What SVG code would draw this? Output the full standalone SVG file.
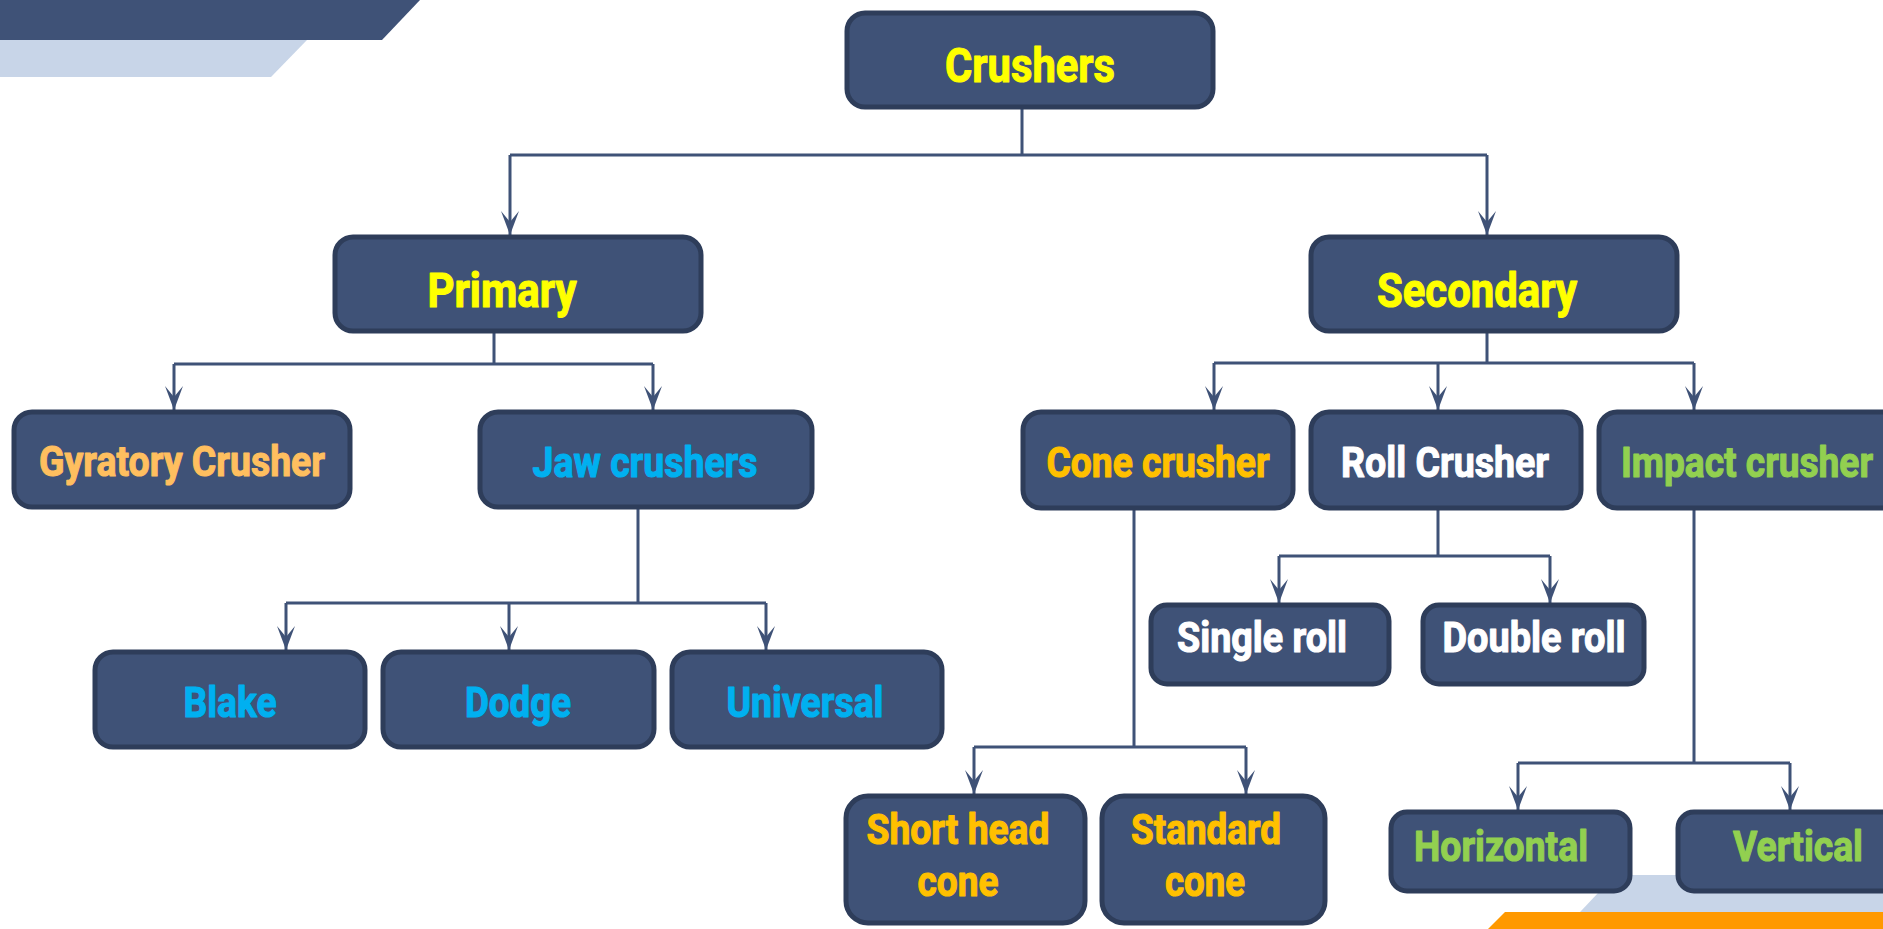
<svg xmlns="http://www.w3.org/2000/svg" width="1883" height="929" viewBox="0 0 1883 929">
<style>
.n{fill:#3F5277;stroke:#2E3D5A;stroke-width:5}
.t{font-family:Roboto,"Liberation Sans",sans-serif;font-weight:bold;font-size:42px;text-anchor:middle;stroke-width:1.1;stroke-linejoin:round}
.big{font-size:49px}
.y{fill:#FFFF00;stroke:#FFFF00}.o{fill:#FFBF5F;stroke:#FFBF5F}.b{fill:#00B0F0;stroke:#00B0F0}.g{fill:#FFC000;stroke:#FFC000}.w{fill:#FFFFFF;stroke:#FFFFFF}.gr{fill:#92D050;stroke:#92D050}
.c{fill:none;stroke:#3F5277;stroke-width:3;marker-end:url(#ah)}
.l{fill:none;stroke:#3F5277;stroke-width:3}
</style>
<defs>
<marker id="ah" markerUnits="userSpaceOnUse" markerWidth="30" markerHeight="24" viewBox="-26 -12 28 24" refX="0" refY="0" orient="auto">
<path d="M0,0 L-24,-9 L-13,0 L-24,9 Z" fill="#3F5277"/>
</marker>
</defs>
<g id="decor">
<polygon points="0,0 420,0 382,40 0,40" fill="#3F5277"/>
<polygon points="0,40 307,40 271,77 0,77" fill="#C8D5E8"/>
<polygon points="1615,875 1883,875 1883,929 1564,929" fill="#C8D5E8"/>
<polygon points="1505,912 1883,912 1883,929 1488,929" fill="#FF9900"/>
</g>
<g id="connectors">
<path class="l" d="M1022,109 V155 M510,155 H1487"/>
<path class="c" d="M510,155 V235"/>
<path class="c" d="M1487,155 V235"/>
<path class="l" d="M494,333 V364 M174,364 H653"/>
<path class="c" d="M174,364 V410"/>
<path class="c" d="M653,364 V410"/>
<path class="l" d="M1487,332 V363 M1214,363 H1694"/>
<path class="c" d="M1214,363 V410"/>
<path class="c" d="M1438,363 V410"/>
<path class="c" d="M1694,363 V410"/>
<path class="l" d="M638,509 V603 M286,603 H766"/>
<path class="c" d="M286,603 V650"/>
<path class="c" d="M509,603 V650"/>
<path class="c" d="M766,603 V650"/>
<path class="l" d="M1438,510 V556 M1279,556 H1550"/>
<path class="c" d="M1279,556 V603"/>
<path class="c" d="M1550,556 V603"/>
<path class="l" d="M1134,510 V747 M974,747 H1246"/>
<path class="c" d="M974,747 V794"/>
<path class="c" d="M1246,747 V794"/>
<path class="l" d="M1694,510 V763 M1518,763 H1790"/>
<path class="c" d="M1518,763 V810"/>
<path class="c" d="M1790,763 V810"/>
</g>
<g id="crushers"><rect class="n" x="847" y="13" width="366" height="94" rx="18"/><text class="t big y" x="1030" y="82" textLength="170" lengthAdjust="spacingAndGlyphs">Crushers</text></g>
<g id="primary"><rect class="n" x="335" y="237" width="366" height="94" rx="18"/><text class="t big y" x="502" y="307" textLength="149" lengthAdjust="spacingAndGlyphs">Primary</text></g>
<g id="secondary"><rect class="n" x="1311" y="237" width="366" height="94" rx="18"/><text class="t big y" x="1477" y="307" textLength="200" lengthAdjust="spacingAndGlyphs">Secondary</text></g>
<g id="gyratory"><rect class="n" x="14" y="412" width="336" height="95" rx="18"/><text class="t o" x="182" y="476" textLength="286" lengthAdjust="spacingAndGlyphs">Gyratory Crusher</text></g>
<g id="jaw"><rect class="n" x="480" y="412" width="332" height="95" rx="18"/><text class="t b" x="645" y="477" textLength="225" lengthAdjust="spacingAndGlyphs">Jaw crushers</text></g>
<g id="cone"><rect class="n" x="1023" y="412" width="270" height="96" rx="18"/><text class="t g" x="1158" y="477" textLength="223" lengthAdjust="spacingAndGlyphs">Cone crusher</text></g>
<g id="roll"><rect class="n" x="1311" y="412" width="270" height="96" rx="18"/><text class="t w" x="1445" y="477" textLength="208" lengthAdjust="spacingAndGlyphs">Roll Crusher</text></g>
<g id="impact"><rect class="n" x="1599" y="412" width="300" height="96" rx="18"/><text class="t gr" x="1747" y="477" textLength="252" lengthAdjust="spacingAndGlyphs">Impact crusher</text></g>
<g id="blake"><rect class="n" x="95" y="652" width="270" height="95" rx="18"/><text class="t b" x="230" y="717" textLength="93" lengthAdjust="spacingAndGlyphs">Blake</text></g>
<g id="dodge"><rect class="n" x="383" y="652" width="271" height="95" rx="18"/><text class="t b" x="518" y="717" textLength="106" lengthAdjust="spacingAndGlyphs">Dodge</text></g>
<g id="universal"><rect class="n" x="672" y="652" width="270" height="95" rx="18"/><text class="t b" x="805" y="717" textLength="157" lengthAdjust="spacingAndGlyphs">Universal</text></g>
<g id="single"><rect class="n" x="1151" y="605" width="238" height="79" rx="16"/><text class="t w" x="1262" y="652" textLength="170" lengthAdjust="spacingAndGlyphs">Single roll</text></g>
<g id="double"><rect class="n" x="1423" y="605" width="221" height="79" rx="16"/><text class="t w" x="1534" y="652" textLength="183" lengthAdjust="spacingAndGlyphs">Double roll</text></g>
<g id="shorthead"><rect class="n" x="846" y="796" width="239" height="127" rx="22"/><text class="t g" x="958" y="844" textLength="183" lengthAdjust="spacingAndGlyphs">Short head</text><text class="t g" x="958" y="896" textLength="81" lengthAdjust="spacingAndGlyphs">cone</text></g>
<g id="standard"><rect class="n" x="1102" y="796" width="223" height="127" rx="22"/><text class="t g" x="1206" y="844" textLength="150" lengthAdjust="spacingAndGlyphs">Standard</text><text class="t g" x="1205" y="896" textLength="80" lengthAdjust="spacingAndGlyphs">cone</text></g>
<g id="horizontal"><rect class="n" x="1391" y="812" width="239" height="79" rx="16"/><text class="t gr" x="1501" y="861" textLength="174" lengthAdjust="spacingAndGlyphs">Horizontal</text></g>
<g id="vertical"><rect class="n" x="1678" y="812" width="250" height="79" rx="16"/><text class="t gr" x="1798" y="861" textLength="130" lengthAdjust="spacingAndGlyphs">Vertical</text></g>
</svg>
